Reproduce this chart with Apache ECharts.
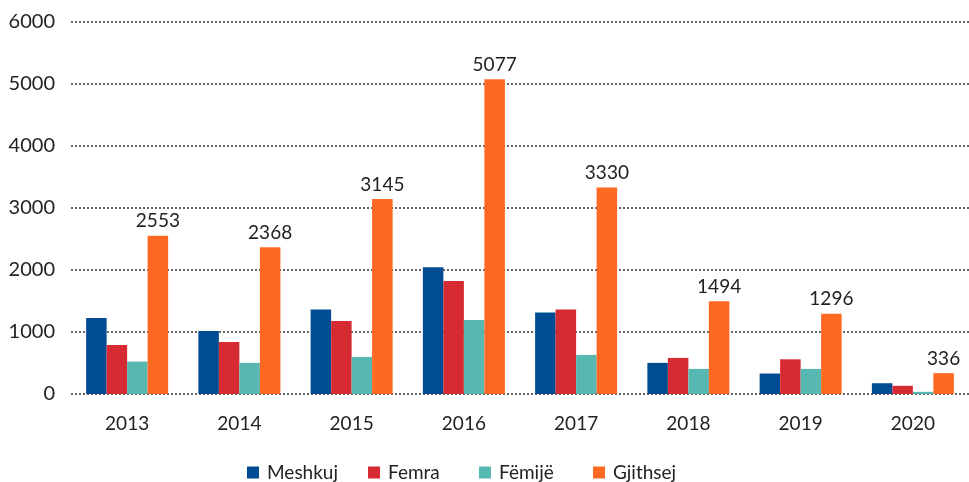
<!DOCTYPE html>
<html>
<head>
<meta charset="utf-8">
<script src="https://cdn.jsdelivr.net/npm/echarts@6/dist/echarts.min.js"></script>
<style>
  html, body { margin: 0; padding: 0; background: #fff; }
  #chart { width: 969px; height: 482px; }
</style>
</head>
<body>
<div id="chart"></div>
<script>
var years = ['2013', '2014', '2015', '2016', '2017', '2018', '2019', '2020'];
var seriesNames = ['Meshkuj', 'Femra', 'Fëmijë', 'Gjithsej'];
var meshkuj = [1226, 1017, 1364, 2046, 1316, 502, 330, 174];
var femra = [791, 840, 1177, 1821, 1364, 582, 560, 132];
var femije = [523, 502, 598, 1193, 630, 405, 405, 35];
var gjithsej = [2553, 2368, 3145, 5077, 3330, 1494, 1296, 336];

var myChart = echarts.init(document.getElementById('chart'));

var fontFam = 'Lato, "Open Sans", sans-serif';

// one legend per series so the items sit at fixed x positions
var legendLeft = [242, 363, 474, 588];
var legends = seriesNames.map(function (n, i) {
    return {
        top: 458,
        left: legendLeft[i],
        itemWidth: 12,
        itemHeight: 12,
        icon: 'rect',
        textStyle: {
            fontFamily: fontFam,
            fontSize: 19,
            color: '#222',
            padding: [0, 0, 0, 3]
        },
        data: [n]
    };
});

myChart.setOption({
    animation: false,
    color: ['#004C93', '#D72B33', '#57B8B2', '#FF6820'],
    grid: {
        left: 71,
        right: 0,
        top: 22,
        bottom: 88
    },
    legend: legends,
    xAxis: {
        type: 'category',
        data: years,
        axisLine: { show: false },
        axisTick: { show: false },
        axisLabel: {
            fontFamily: fontFam,
            fontSize: 19,
            color: '#222',
            margin: 20
        }
    },
    yAxis: {
        type: 'value',
        min: 0,
        max: 6000,
        interval: 1000,
        axisLabel: {
            fontFamily: fontFam,
            fontSize: 20,
            color: '#222',
            margin: 16,
            formatter: function (v) { return String(v); }
        },
        splitLine: {
            lineStyle: { type: [2, 2], color: '#333', width: 1.5 }
        }
    },
    series: [
        { name: seriesNames[0], type: 'bar', data: meshkuj, barWidth: 20.5, barGap: '0%' },
        { name: seriesNames[1], type: 'bar', data: femra, barWidth: 20.5, barGap: '0%' },
        { name: seriesNames[2], type: 'bar', data: femije, barWidth: 20.5, barGap: '0%' },
        {
            name: seriesNames[3], type: 'bar', data: gjithsej, barWidth: 20.5, barGap: '0%',
            label: {
                show: true,
                position: 'top',
                distance: 5,
                fontFamily: fontFam,
                fontSize: 19,
                color: '#222'
            }
        }
    ]
});
</script>
</body>
</html>
